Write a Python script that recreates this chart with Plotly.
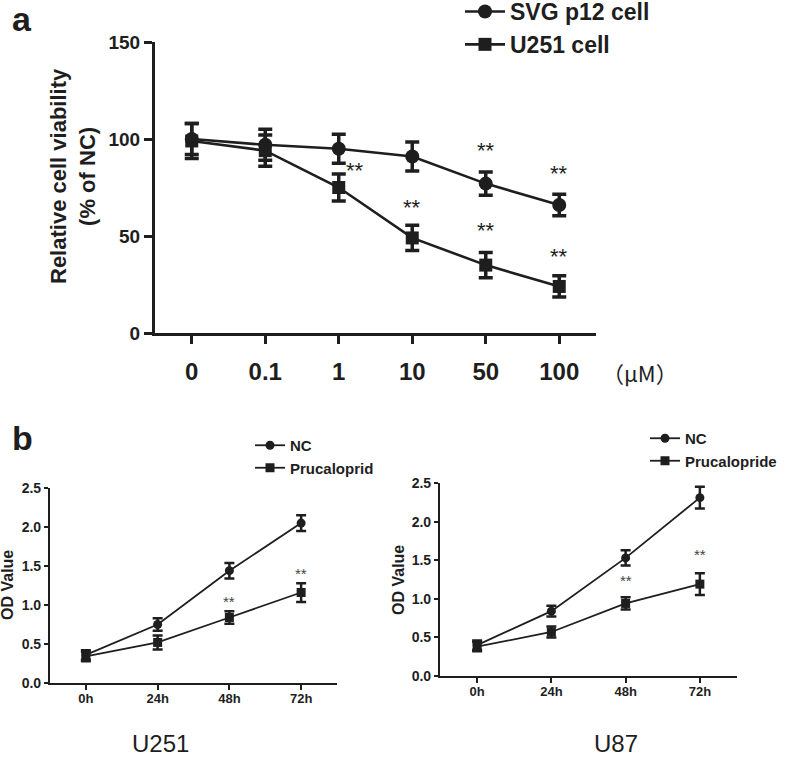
import plotly.graph_objects as go

# ---------------- data ----------------
dose_labels = ["0", "0.1", "1", "10", "50", "100"]
svg_viab = [100, 97, 95, 91, 77, 66]
svg_err = [8, 8, 7.5, 7.5, 6, 5.5]
u251_viab = [99, 94, 75, 49, 35, 24]
u251_err = [9, 8, 7, 6.5, 6.5, 5.5]
top_star_x = ["1", "10", "50", "50", "100", "100"]
top_star_y = [84, 64.5, 94, 52.6, 82, 39.4]

time_labels = ["0h", "24h", "48h", "72h"]
u251_nc = [0.36, 0.75, 1.44, 2.05]
u251_nc_err = [0.06, 0.08, 0.1, 0.1]
u251_pru = [0.34, 0.52, 0.84, 1.16]
u251_pru_err = [0.06, 0.09, 0.08, 0.12]
u251_star_x = ["48h", "72h"]
u251_star_y = [1.04, 1.41]

u87_nc = [0.40, 0.84, 1.53, 2.31]
u87_nc_err = [0.06, 0.07, 0.1, 0.14]
u87_pru = [0.38, 0.57, 0.94, 1.19]
u87_pru_err = [0.06, 0.07, 0.08, 0.14]
u87_star_x = ["48h", "72h"]
u87_star_y = [1.24, 1.57]

FONT = "Liberation Sans, Arial, sans-serif"
INK = "#1e1e1e"

W, H = 787, 758


def px(x):
    return x / W


def py(y):
    return 1 - y / H


fig = go.Figure()

# ---------------- panel a ----------------
fig.add_trace(go.Scatter(
    x=dose_labels, y=svg_viab, name="SVG p12 cell", mode="lines+markers",
    line=dict(color=INK, width=2.6), marker=dict(symbol="circle", size=14, color=INK),
    error_y=dict(type="data", array=svg_err, color=INK, thickness=3.5, width=7),
    xaxis="x", yaxis="y", legend="legend"))
fig.add_trace(go.Scatter(
    x=dose_labels, y=u251_viab, name="U251 cell", mode="lines+markers",
    line=dict(color=INK, width=2.6), marker=dict(symbol="square", size=13, color=INK),
    error_y=dict(type="data", array=u251_err, color=INK, thickness=3.5, width=7),
    xaxis="x", yaxis="y", legend="legend"))

# ---------------- panel b left ----------------
fig.add_trace(go.Scatter(
    x=time_labels, y=u251_nc, name="NC", mode="lines+markers",
    line=dict(color=INK, width=1.8), marker=dict(symbol="circle", size=9, color=INK),
    error_y=dict(type="data", array=u251_nc_err, color=INK, thickness=2.5, width=5),
    xaxis="x2", yaxis="y2", legend="legend2"))
fig.add_trace(go.Scatter(
    x=time_labels, y=u251_pru, name="Prucaloprid", mode="lines+markers",
    line=dict(color=INK, width=1.8), marker=dict(symbol="square", size=9, color=INK),
    error_y=dict(type="data", array=u251_pru_err, color=INK, thickness=2.5, width=5),
    xaxis="x2", yaxis="y2", legend="legend2"))

# ---------------- panel b right ----------------
fig.add_trace(go.Scatter(
    x=time_labels, y=u87_nc, name="NC", mode="lines+markers",
    line=dict(color=INK, width=1.8), marker=dict(symbol="circle", size=9, color=INK),
    error_y=dict(type="data", array=u87_nc_err, color=INK, thickness=2.5, width=5),
    xaxis="x3", yaxis="y3", legend="legend3"))
fig.add_trace(go.Scatter(
    x=time_labels, y=u87_pru, name="Prucalopride", mode="lines+markers",
    line=dict(color=INK, width=1.8), marker=dict(symbol="square", size=9, color=INK),
    error_y=dict(type="data", array=u87_pru_err, color=INK, thickness=2.5, width=5),
    xaxis="x3", yaxis="y3", legend="legend3"))

annotations = []
for xs, ys in zip(top_star_x, top_star_y):
    annotations.append(dict(x=dose_labels.index(xs), y=ys, xref="x", yref="y", text="**",
                            showarrow=False, xanchor="center", yanchor="middle",
                            xshift=16 if xs == "1" else 0,
                            font=dict(family=FONT, size=22, color=INK)))
for xs, ys in zip(u251_star_x, u251_star_y):
    annotations.append(dict(x=time_labels.index(xs), y=ys, xref="x2", yref="y2", text="**",
                            showarrow=False, xanchor="center", yanchor="middle",
                            font=dict(family=FONT, size=15, color="#444")))
for xs, ys in zip(u87_star_x, u87_star_y):
    annotations.append(dict(x=time_labels.index(xs), y=ys, xref="x3", yref="y3", text="**",
                            showarrow=False, xanchor="center", yanchor="middle",
                            font=dict(family=FONT, size=15, color="#444")))


def txt(x, y, text, size, bold=False, angle=0, family=FONT):
    f = dict(family=family, size=size, color=INK)
    if bold:
        f["weight"] = "bold"
    return dict(x=px(x), y=py(y), xref="paper", yref="paper", text=text,
                showarrow=False, xanchor="center", yanchor="middle", textangle=angle, font=f)


annotations += [
    txt(22, 19, "a", 34, bold=True),
    txt(22, 438, "b", 34, bold=True),
    txt(640, 372, "（μM）", 22, family="Noto Sans CJK SC, " + FONT),
    txt(73, 176, "Relative cell viability<br>(% of NC)", 22, bold=True, angle=-90),
    txt(7, 585, "OD Value", 16, bold=True, angle=-90),
    txt(398, 580, "OD Value", 16, bold=True, angle=-90),
    txt(160, 743, "U251", 24),
    txt(616, 743, "U87", 24),
]


def xax(domain, labels, size, lw, tl, standoff, anchor):
    return dict(domain=domain, anchor=anchor, type="category", range=[-0.5, len(labels) - 0.5],
                showline=True, linewidth=lw, linecolor=INK, ticks="outside", ticklen=tl,
                tickwidth=lw, tickcolor=INK, showgrid=False, zeroline=False,
                ticklabelstandoff=standoff,
                tickfont=dict(family=FONT, size=size, color=INK, weight="bold"))


def yax(domain, rng, dtick, size, lw, tl, fmt, anchor):
    return dict(domain=domain, anchor=anchor, range=rng, dtick=dtick, tick0=0, showline=True,
                linewidth=lw, linecolor=INK, ticks="outside", ticklen=tl, tickwidth=lw,
                tickcolor=INK, showgrid=False, zeroline=False, tickformat=fmt,
                tickfont=dict(family=FONT, size=size, color=INK, weight="bold"))


fig.update_layout(
    width=W, height=H, margin=dict(l=0, r=0, t=0, b=0, autoexpand=False),
    paper_bgcolor="white", plot_bgcolor="white",
    xaxis=xax([px(155), px(596)], dose_labels, 24, 3, 8, 7, "y"),
    yaxis=yax([py(333), py(42)], [0, 150], 50, 19, 3, 8, "", "x"),
    xaxis2=xax([px(50), px(337)], time_labels, 13, 2.2, 5, -3, "y2"),
    yaxis2=yax([py(683), py(488)], [0, 2.5], 0.5, 14, 2.2, 4, ".1f", "x2"),
    xaxis3=xax([px(440), px(737)], time_labels, 13, 2.2, 5, -3, "y3"),
    yaxis3=yax([py(676), py(483)], [0, 2.5], 0.5, 14, 2.2, 4, ".1f", "x3"),
    legend=dict(x=px(460), y=py(-10), xanchor="left", yanchor="top",
                bgcolor="rgba(0,0,0,0)", itemwidth=40,
                font=dict(family=FONT, size=23, color=INK, weight="bold")),
    legend2=dict(x=px(250), y=py(429), xanchor="left", yanchor="top",
                 bgcolor="rgba(0,0,0,0)", tracegroupgap=0,
                 font=dict(family=FONT, size=15, color=INK, weight="bold")),
    legend3=dict(x=px(645), y=py(422), xanchor="left", yanchor="top",
                 bgcolor="rgba(0,0,0,0)", tracegroupgap=0,
                 font=dict(family=FONT, size=15, color=INK, weight="bold")),
    showlegend=True,
    annotations=annotations,
)

fig.write_html(
    "out.html",
    config={"displayModeBar": False},
    post_script="document.body.style.margin='0px';document.body.style.overflow='hidden';",
)
